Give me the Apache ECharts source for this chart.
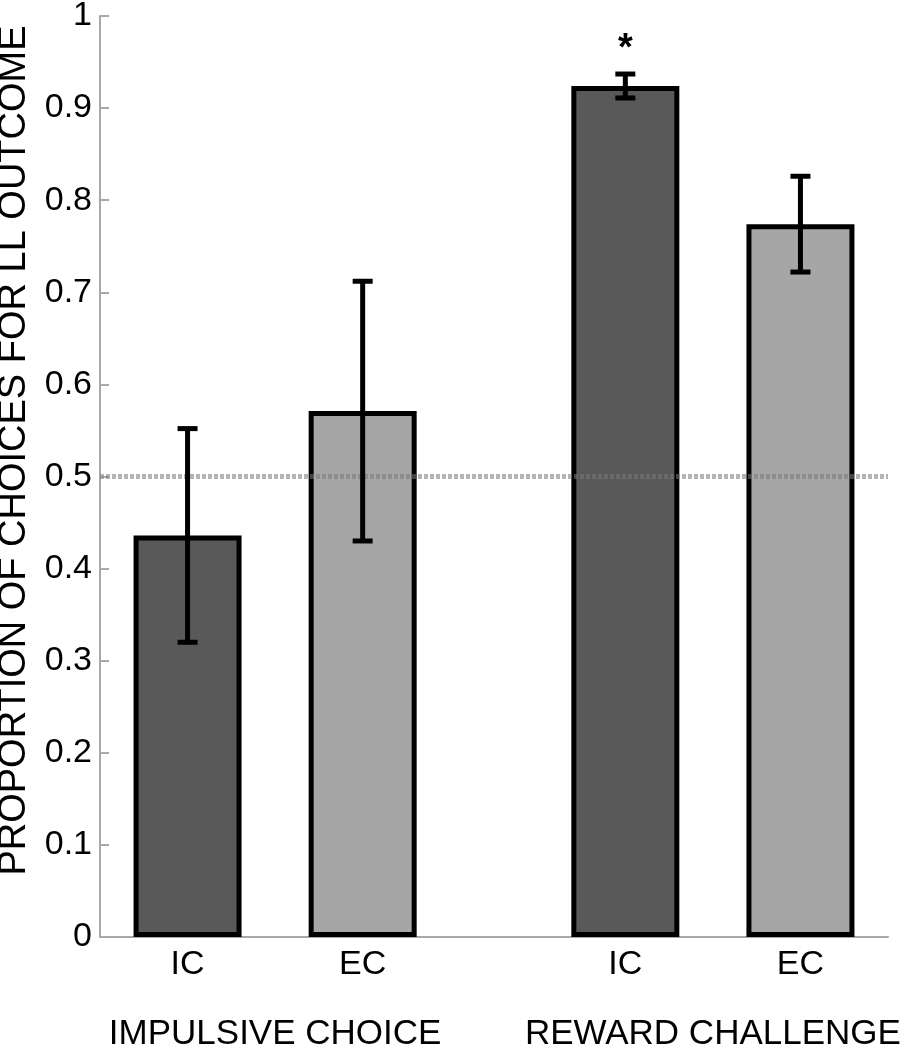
<!DOCTYPE html>
<html>
<head>
<meta charset="utf-8">
<script src="https://cdn.jsdelivr.net/npm/echarts@6/dist/echarts.min.js"></script>
<style>
  html, body { margin: 0; padding: 0; background: #fff; }
  #chart { width: 907px; height: 1050px; }
</style>
</head>
<body>
<div id="chart"></div>
<script>
// groups on the x axis, bars sit half a unit either side of the group centre
const groups = ['IMPULSIVE CHOICE', 'REWARD CHALLENGE'];
const groupCenter = [1.5, 4];
const conditions = ['IC', 'EC'];

// mean proportion of LL choices and error (half length of the bar)
const icMean = [0.436, 0.924];
const icErr = [0.116, 0.013];
const ecMean = [0.571, 0.774];
const ecErr = [0.141, 0.052];
const significant = [false, true]; // only IC in reward challenge

const chanceLevel = 0.5;
const yTicks = [0, 0.1, 0.2, 0.3, 0.4, 0.5, 0.6, 0.7, 0.8, 0.9, 1];

const FONT = "'Liberation Sans', Arial, sans-serif";

let chart = echarts.getInstanceByDom(document.getElementById('chart'));
if (!chart) chart = echarts.init(document.getElementById('chart'));

// x position of each condition label
const labelAt = {};
groupCenter.forEach(function (c) {
    labelAt[(c - 0.5).toFixed(1)] = conditions[0];
    labelAt[(c + 0.5).toFixed(1)] = conditions[1];
});
const groupAt = {};
groupCenter.forEach(function (c, i) { groupAt[c.toFixed(1)] = groups[i]; });

const icData = groupCenter.map(function (c, i) { return [c - 0.5, icMean[i]]; });
const ecData = groupCenter.map(function (c, i) { return [c + 0.5, ecMean[i]]; });

// error bar items: x, low, high, star
const errData = [];
groupCenter.forEach(function (c, i) {
    errData.push([c - 0.5, icMean[i] - icErr[i], icMean[i] + icErr[i], significant[i] ? 1 : 0]);
    errData.push([c + 0.5, ecMean[i] - ecErr[i], ecMean[i] + ecErr[i], 0]);
});

function renderErr(params, api) {
    const x = api.value(0);
    const lo = api.coord([x, api.value(1)]);
    const hi = api.coord([x, api.value(2)]);
    const cap = 10;
    const style = { stroke: '#000', lineWidth: 5 };
    const children = [
        { type: 'line', shape: { x1: lo[0], y1: lo[1], x2: hi[0], y2: hi[1] }, style: style },
        { type: 'line', shape: { x1: lo[0] - cap, y1: lo[1], x2: lo[0] + cap, y2: lo[1] }, style: style },
        { type: 'line', shape: { x1: hi[0] - cap, y1: hi[1], x2: hi[0] + cap, y2: hi[1] }, style: style }
    ];
    if (api.value(3)) {
        children.push({
            type: 'text',
            style: {
                text: '*', x: hi[0], y: hi[1] - 6,
                align: 'center', verticalAlign: 'bottom',
                font: 'bold 38px ' + FONT, fill: '#000'
            }
        });
    }
    return { type: 'group', children: children };
}

const option = {
    backgroundColor: '#fff',
    animation: false,
    grid: { left: 100, right: 19, top: 16, bottom: 113, outerBoundsMode: 'none', containLabel: false },
    xAxis: [
        {
            type: 'value', min: 0.5, max: 5, interval: 0.5,
            splitLine: { show: false },
            axisTick: { show: false },
            axisLine: { lineStyle: { color: '#a8a8a8', width: 2 } },
            axisLabel: {
                margin: 11, color: '#000', fontSize: 34, fontFamily: FONT,
                formatter: function (v) { return labelAt[v.toFixed(1)] || ''; }
            }
        },
        {
            type: 'value', min: 0.5, max: 5, interval: 0.5, position: 'bottom',
            splitLine: { show: false },
            axisTick: { show: false },
            axisLine: { show: false },
            axisLabel: {
                margin: 80, color: '#000', fontSize: 35, fontFamily: FONT,
                formatter: function (v) { return groupAt[v.toFixed(1)] || ''; }
            }
        }
    ],
    yAxis: {
        type: 'value', min: 0, max: 1, interval: 0.1,
        name: 'PROPORTION OF CHOICES FOR LL OUTCOME',
        nameLocation: 'middle', nameRotate: 90, nameGap: 61,
        nameTextStyle: { color: '#000', fontSize: 38, fontFamily: FONT, padding: [0, 0, 0, 52] },
        splitLine: { show: false },
        axisLine: { show: true, lineStyle: { color: '#a8a8a8', width: 2 } },
        axisTick: { show: true, inside: true, length: 9, lineStyle: { color: '#a8a8a8', width: 2 } },
        axisLabel: {
            margin: 8, color: '#000', fontSize: 34, fontFamily: FONT,
            formatter: function (v) {
                const t = yTicks.find(function (k) { return Math.abs(k - v) < 1e-6; });
                return t === undefined ? '' : String(t);
            }
        }
    },
    series: [
        {
            name: 'IC', type: 'bar', data: icData, barWidth: 108, barGap: '-100%',
            itemStyle: { color: '#595959', borderColor: '#000', borderWidth: 5 }
        },
        {
            name: 'EC', type: 'bar', data: ecData, barWidth: 108, barGap: '-100%',
            itemStyle: { color: '#a6a6a6', borderColor: '#000', borderWidth: 5 }
        },
        {
            name: 'chance', type: 'line', data: [], z: 5,
            markLine: {
                silent: true, symbol: 'none', label: { show: false },
                lineStyle: { color: 'rgba(120,120,120,0.55)', width: 5, type: [4, 2] },
                data: [{ yAxis: chanceLevel }]
            }
        },
        {
            name: 'err', type: 'custom', data: errData, z: 6,
            renderItem: renderErr
        }
    ]
};
chart.clear();
option && chart.setOption(option);

window.addEventListener('resize', function () {
    chart.resize();
});
</script>
</body>
</html>
